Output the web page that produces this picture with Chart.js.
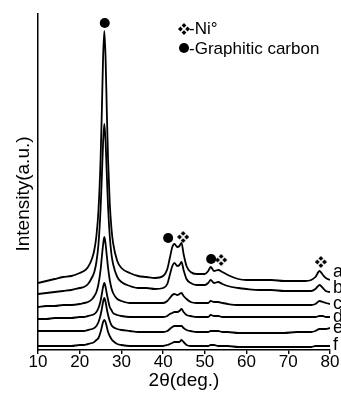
<!DOCTYPE html>
<html>
<head>
<meta charset="utf-8">
<script src="https://cdn.jsdelivr.net/npm/chart.js@4/dist/chart.umd.min.js"></script>
<style>
  html, body { margin: 0; padding: 0; background: #fff; }
  #wrap { width: 341px; height: 394px; }
</style>
</head>
<body>
<div id="wrap"><canvas id="xrd"></canvas></div>
<script>
// 2theta positions (deg) and intensity of each pattern (a.u.)
const twoTheta = [10, 12, 14, 16, 18, 20, 21, 22, 23, 23.5,
  24, 24.5, 25, 25.3, 25.6, 25.9, 26.2, 26.5, 26.8, 27.2,
  27.6, 28, 29, 30, 32, 34, 36, 38, 40, 41,
  41.6, 42.2, 42.7, 43.4, 43.9, 44.4, 44.9, 45.6, 46.6, 48,
  50, 50.8, 51.4, 52.2, 53.2, 54.2, 55.5, 58, 60, 63,
  66, 69, 72, 74, 75.5, 76.5, 77.5, 78.3, 79, 80];

const seriesA = [67, 69, 71, 73, 74, 77, 79, 83, 92, 100,
  114, 140, 190, 238, 292, 319, 292, 238, 190, 147,
  122, 107, 89, 82, 77, 74, 73, 72, 74, 81,
  92, 103, 106, 103, 104, 107, 96, 84, 78, 76,
  76, 79, 83, 79, 80, 78, 75, 71, 70, 70,
  70, 69, 69, 69, 70, 73, 79, 75, 72, 70];
const seriesB = [56, 57, 58, 59, 60, 62, 63, 66, 73, 78,
  88, 106, 141, 173, 207, 226, 209, 175, 143, 114,
  96, 86, 73, 68, 64, 62, 62, 61, 62, 66,
  75, 84, 87, 84, 85, 88, 80, 71, 67, 65,
  65, 67, 70, 67, 68, 66, 64, 62, 61, 60,
  60, 59, 59, 59, 59, 61, 65, 62, 59, 58];
const seriesC = [43, 44, 44, 45, 45, 46, 47, 48, 51, 54,
  58, 66, 80, 93, 105, 113, 106, 94, 82, 70,
  62, 57, 51, 49, 47, 47, 47, 47, 47, 49,
  52, 55, 56, 55, 56, 57, 54, 51, 48, 47,
  47, 47, 49, 48, 48, 47, 46, 45, 45, 45,
  45, 45, 45, 45, 45, 46, 49, 48, 47, 46];
const seriesD = [31, 31, 32, 32, 32, 33, 33, 34, 35, 36,
  38, 42, 49, 56, 63, 67, 63, 56, 50, 43,
  40, 37, 35, 34, 33, 33, 33, 33, 33, 34,
  36, 37, 38, 38, 39, 41, 38, 35, 34, 33,
  33, 33, 35, 34, 34, 33, 33, 33, 33, 33,
  33, 33, 33, 33, 33, 33, 34, 34, 33, 33];
const seriesE = [19, 19, 19, 19, 19, 19, 19, 20, 21, 22,
  24, 28, 35, 41, 48, 52, 48, 41, 35, 29,
  25, 23, 21, 20, 19, 18, 18, 18, 18, 19,
  21, 23, 24, 24, 24, 24, 22, 20, 19, 18,
  18, 18, 19, 19, 19, 18, 18, 17, 17, 17,
  17, 17, 18, 18, 18, 19, 21, 21, 21, 22];
const seriesF = [4, 4, 4, 4, 4, 5, 5, 6, 7, 8,
  10, 12, 18, 23, 28, 30, 28, 23, 18, 14,
  11, 9, 6, 5, 4, 4, 4, 4, 4, 5,
  6, 7, 8, 8, 8, 10, 8, 5, 4, 4,
  4, 4, 5, 5, 4, 4, 4, 3, 3, 3,
  3, 3, 3, 3, 3, 4, 4, 4, 4, 4];

const seriesNames = ["a", "b", "c", "d", "e", "f"];
const allSeries = [seriesA, seriesB, seriesC, seriesD, seriesE, seriesF];

// peak markers
const carbonX = [26, 41.2, 51.5];
const carbonY = [327, 112, 91];
const nickelX = [44.8, 53.9, 77.8];
const nickelY = [113, 90, 88];

const xTicks = [10, 20, 30, 40, 50, 60, 70, 80];

const FONT = '"Liberation Sans", Arial, sans-serif';

// four small diamonds, like the ❖ glyph
function nickelGlyph() {
  const c = document.createElement("canvas");
  c.width = 12;
  c.height = 12;
  const g = c.getContext("2d");
  g.fillStyle = "#000";
  const dia = (x, y) => {
    g.beginPath();
    g.moveTo(x, y - 2.4);
    g.lineTo(x + 2.4, y);
    g.lineTo(x, y + 2.4);
    g.lineTo(x - 2.4, y);
    g.closePath();
    g.fill();
  };
  dia(6, 2.4);
  dia(9.6, 6);
  dia(6, 9.6);
  dia(2.4, 6);
  return c;
}
const niImg = nickelGlyph();

const curveSets = allSeries.map((vals, k) => ({
  label: seriesNames[k],
  data: twoTheta.map((x, i) => ({ x: x, y: vals[i] })),
  borderColor: "#000",
  borderWidth: 1.8,
  pointRadius: 0,
  cubicInterpolationMode: "monotone",
  fill: false,
}));

const markerSets = [
  {
    label: "Graphitic carbon",
    data: carbonX.map((x, i) => ({ x: x, y: carbonY[i] })),
    showLine: false,
    pointStyle: "circle",
    pointRadius: 5,
    backgroundColor: "#000",
    borderColor: "#000",
    borderWidth: 0,
  },
  {
    label: "Ni",
    data: nickelX.map((x, i) => ({ x: x, y: nickelY[i] })),
    showLine: false,
    pointStyle: niImg,
    pointRadius: 6,
  },
];

const labelOffsets = [-8, -4, 0, 0, 0, -1];

const annotate = {
  id: "annotate",
  afterDraw(chart) {
    const { ctx, chartArea, scales } = chart;
    ctx.save();
    ctx.fillStyle = "#000";

    // y title
    ctx.save();
    ctx.font = "19px " + FONT;
    ctx.textAlign = "center";
    ctx.textBaseline = "middle";
    ctx.translate(24, 194);
    ctx.rotate(-Math.PI / 2);
    ctx.fillText("Intensity(a.u.)", 0, 0);
    ctx.restore();

    // curve letters at the right end
    ctx.font = "18px " + FONT;
    ctx.textAlign = "left";
    ctx.textBaseline = "middle";
    allSeries.forEach((vals, k) => {
      const y = scales.y.getPixelForValue(vals[vals.length - 1]) + labelOffsets[k];
      ctx.fillText(seriesNames[k], chartArea.right + 3, y);
    });

    // key
    ctx.font = "17px " + FONT;
    ctx.textBaseline = "alphabetic";
    ctx.drawImage(niImg, 178, 23);
    ctx.fillText("-Ni°", 189, 34);
    ctx.beginPath();
    ctx.arc(184, 48, 5, 0, Math.PI * 2);
    ctx.fill();
    ctx.fillText("-Graphitic carbon", 189, 54);
    ctx.restore();
  },
};

new Chart(document.getElementById("xrd"), {
  type: "line",
  data: { datasets: curveSets.concat(markerSets) },
  options: {
    responsive: true,
    maintainAspectRatio: false,
    animation: false,
    layout: { padding: { left: 38, right: 11, top: 14, bottom: 4 } },
    plugins: {
      legend: { display: false },
      tooltip: { enabled: false },
    },
    scales: {
      x: {
        type: "linear",
        min: 10,
        max: 80,
        afterBuildTicks: (axis) => {
          axis.ticks = xTicks.map((v) => ({ value: v }));
        },
        ticks: {
          color: "#000",
          padding: 0,
          font: { family: FONT, size: 17, lineHeight: 1 },
        },
        grid: {
          drawOnChartArea: false,
          drawTicks: true,
          tickLength: 4,
          color: "#000",
          lineWidth: 1.4,
        },
        border: { display: true, color: "#000", width: 1.5 },
        title: {
          display: true,
          text: "2θ(deg.)",
          color: "#000",
          padding: { top: 0, bottom: 0 },
          font: { family: FONT, size: 19, lineHeight: 1 },
        },
      },
      y: {
        min: 0,
        max: 336,
        ticks: { display: false },
        grid: { display: false, drawTicks: false },
        border: { display: true, color: "#000", width: 1.5 },
      },
    },
  },
  plugins: [annotate],
});
</script>
</body>
</html>
